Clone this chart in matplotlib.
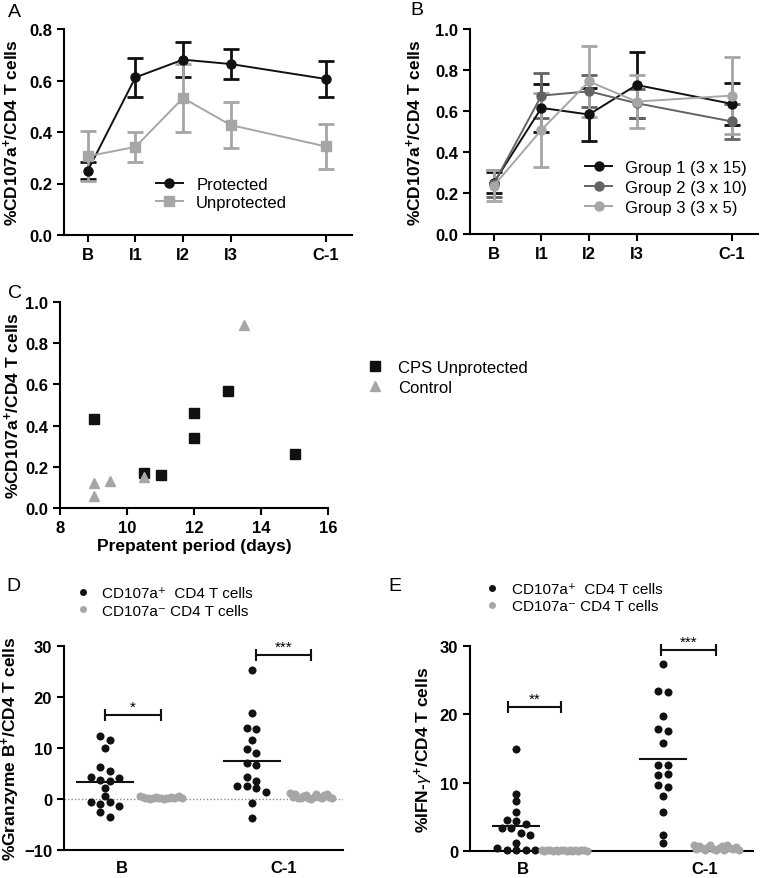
import numpy as np
import matplotlib
matplotlib.use("Agg")
import matplotlib.pyplot as plt
from matplotlib.lines import Line2D

W, H = 760, 879
plt.rcParams.update({
    "font.family": ["Liberation Sans", "DejaVu Sans"],
    "font.size": 12,
    "mathtext.fontset": "custom",
    "mathtext.rm": "Liberation Sans",
    "mathtext.bf": "Liberation Sans:bold",
    "mathtext.it": "Liberation Sans:italic",
    "axes.linewidth": 1.5,
    "xtick.major.width": 1.5, "ytick.major.width": 1.5,
    "xtick.major.size": 5, "ytick.major.size": 5,
    "xtick.labelsize": 12, "ytick.labelsize": 12,
    "axes.spines.top": False, "axes.spines.right": False,
})

# ---------------- data ----------------
timepoints = ["B", "I1", "I2", "I3", "C-1"]
time_pos = [0, 1, 2, 3, 5]

prot_mean = [0.25, 0.612, 0.681, 0.664, 0.606]
prot_sem = [0.033, 0.077, 0.067, 0.060, 0.070]
unprot_mean = [0.306, 0.342, 0.532, 0.427, 0.344]
unprot_sem = [0.097, 0.058, 0.133, 0.090, 0.086]

g1_mean = [0.250, 0.615, 0.583, 0.727, 0.635]
g1_sem = [0.052, 0.118, 0.130, 0.160, 0.104]
g2_mean = [0.245, 0.675, 0.696, 0.638, 0.549]
g2_sem = [0.065, 0.110, 0.078, 0.070, 0.087]
g3_mean = [0.235, 0.508, 0.744, 0.646, 0.675]
g3_sem = [0.075, 0.180, 0.175, 0.130, 0.187]

cps_days = [9, 10.5, 11, 12, 12, 13, 15]
cps_vals = [0.43, 0.17, 0.16, 0.46, 0.34, 0.57, 0.26]
ctrl_days = [9, 9, 9.5, 10.5, 13.5]
ctrl_vals = [0.12, 0.06, 0.13, 0.15, 0.89]

gzb_pos_B = [12.4, 11.6, 10.0, 6.3, 5.5, 4.4, 3.8, 3.6, 4.2, 2.2, 0.5, -0.5,
             -0.9, -0.5, -1.4, -2.6, -3.5]
gzb_neg_B = [0.6, 0.3, 0.1, 0.2, 0.0, 0.1, 0.3, 0.2, 0.1, 0.0, 0.2, 0.1, 0.3,
             0.2, 0.4, 0.5, 0.1]
gzb_pos_C = [25.2, 16.9, 13.9, 13.8, 11.6, 9.9, 9.1, 7.1, 6.7, 4.4, 3.5, 2.5,
             2.5, 2.1, 1.3, -0.8, -3.7]
gzb_neg_C = [1.1, 0.3, 0.9, 0.2, 0.1, 0.5, 0.8, 0.2, 0.0, 0.3, 0.9, 0.4, 0.1,
             0.7, 1.0, 0.3, 0.2]

ifn_pos_B = [14.9, 8.3, 7.3, 5.7, 4.5, 4.4, 4.0, 3.3, 3.3, 2.6, 2.4, 1.1, 0.4,
             0.1, 0.1, 0.1, 0.1]
ifn_neg_B = [0.1, 0.0, 0.2, 0.1, 0.0, 0.1, 0.0, 0.1, 0.2, 0.0, 0.1, 0.0, 0.1,
             0.0, 0.1, 0.2, 0.0]
ifn_pos_C = [27.3, 23.4, 23.2, 19.8, 17.8, 17.6, 15.8, 12.6, 12.6, 11.1, 11.2,
             9.6, 9.4, 8.0, 5.7, 2.4, 1.1]
ifn_neg_C = [0.9, 0.3, 0.8, 0.4, 0.2, 0.6, 0.9, 0.3, 0.1, 0.5, 0.7, 0.2, 0.95,
             0.4, 0.3, 0.6, 0.2]

BLACK, DGRAY, LGRAY = "#111111", "#636363", "#a6a6a6"


def px_axes(fig, l, t, r, b):
    return fig.add_axes([l / W, 1 - b / H, (r - l) / W, (b - t) / H])


def bold_ticks(ax):
    for lab in ax.get_xticklabels() + ax.get_yticklabels():
        lab.set_fontweight("bold")


def swarm(vals, row_h, step, max_w):
    vals = np.asarray(vals, float)
    order = np.argsort(vals, kind="stable")
    offs = np.zeros(len(vals))
    rows, cur = [], [order[0]]
    for i in order[1:]:
        if vals[i] - vals[cur[0]] < row_h:
            cur.append(i)
        else:
            rows.append(cur); cur = [i]
    rows.append(cur)
    for r in rows:
        r = sorted(r)  # keep input order inside a row
        n = len(r)
        s = step if n < 2 else min(step, max_w / (n - 1))
        offs[r] = (np.arange(n) - (n - 1) / 2) * s
    return offs


def line_panel(ax, series):
    for mean, sem, col, mk, lab in series:
        ax.errorbar(time_pos, mean, yerr=sem, color=col, marker=mk, ms=6.5,
                    lw=1.4, elinewidth=2, capsize=5.5, capthick=2, label=lab)
    ax.set_xticks(time_pos)
    ax.set_xticklabels(timepoints)
    ax.set_xlim(-0.5, 5.55)


YLAB = dict(fontweight="bold", fontsize=12.5)
fig = plt.figure(figsize=(W / 100, H / 100), dpi=100)

# ---------------- A ----------------
axA = px_axes(fig, 64, 30, 352, 236)
line_panel(axA, [(prot_mean, prot_sem, BLACK, "o", "Protected"),
                 (unprot_mean, unprot_sem, LGRAY, "s", "Unprotected")])
axA.set_ylim(0, 0.8)
axA.set_yticks(np.arange(0, 0.81, 0.2))
axA.set_yticklabels([f"{v:.1f}" for v in np.arange(0, 0.81, 0.2)])
axA.set_ylabel(r"%CD107a$^{\mathbf{+}}$/CD4 T cells", **YLAB)
axA.yaxis.set_label_coords(-0.15, 0.5)
axA.legend([Line2D([], [], color=BLACK, marker="o", ms=6.5, lw=1.4),
            Line2D([], [], color=LGRAY, marker="s", ms=6.5, lw=1.4)],
           ["Protected", "Unprotected"],
           frameon=False, loc="upper left", bbox_to_anchor=(0.32, 0.28),
           handlelength=1.6, handletextpad=0.8, labelspacing=0.15, fontsize=12,
           borderaxespad=0, borderpad=0)
bold_ticks(axA)

# ---------------- B ----------------
axB = px_axes(fig, 470, 30, 758, 235)
line_panel(axB, [(g1_mean, g1_sem, BLACK, "o", "Group 1 (3 x 15)"),
                 (g2_mean, g2_sem, DGRAY, "o", "Group 2 (3 x 10)"),
                 (g3_mean, g3_sem, LGRAY, "o", "Group 3 (3 x 5)")])
axB.set_ylim(0, 1.0)
axB.set_yticks(np.arange(0, 1.01, 0.2))
axB.set_yticklabels([f"{v:.1f}" for v in np.arange(0, 1.01, 0.2)])
axB.set_ylabel(r"%CD107a$^{\mathbf{+}}$/CD4 T cells", **YLAB)
axB.yaxis.set_label_coords(-0.16, 0.5)
axB.legend([Line2D([], [], color=c, marker="o", ms=6.5, lw=1.4)
            for c in (BLACK, DGRAY, LGRAY)],
           ["Group 1 (3 x 15)", "Group 2 (3 x 10)", "Group 3 (3 x 5)"],
           frameon=False, loc="upper left", bbox_to_anchor=(0.40, 0.36),
           handlelength=1.6, handletextpad=0.8, labelspacing=0.3, fontsize=12,
           borderaxespad=0, borderpad=0)
bold_ticks(axB)

# ---------------- C ----------------
axC = px_axes(fig, 60, 303, 328, 509)
axC.plot(cps_days, cps_vals, "s", color=BLACK, ms=7, label="CPS Unprotected",
         clip_on=False)
axC.plot(ctrl_days, ctrl_vals, "^", color=LGRAY, ms=6.5, label="Control",
         clip_on=False)
axC.set_xlim(8, 16)
axC.set_ylim(0, 1.0)
axC.set_xticks([8, 10, 12, 14, 16])
axC.set_yticks(np.arange(0, 1.01, 0.2))
axC.set_yticklabels([f"{v:.1f}" for v in np.arange(0, 1.01, 0.2)])
axC.set_ylabel(r"%CD107a$^{\mathbf{+}}$/CD4 T cells", **YLAB)
axC.yaxis.set_label_coords(-0.14, 0.5)
axC.set_xlabel("Prepatent period (days)", fontweight="bold", fontsize=12.5,
               labelpad=2)
fig.legend(*axC.get_legend_handles_labels(), loc="upper left",
           bbox_to_anchor=(368 / W, 1 - 361 / H), frameon=False, fontsize=12,
           handlelength=0.8, handletextpad=1.0, labelspacing=0.3,
           borderpad=0, borderaxespad=0)
bold_ticks(axC)


# ---------------- D / E ----------------
def dot_panel(ax, groups, pos, ylim, step, max_w, row_h, hw, ticks_x, brackets):
    for (vals, col), p in zip(groups, pos):
        offs = swarm(vals, row_h, step, max_w)
        ax.plot(p + offs, vals, "o", color=col, ms=5.8, mew=0, clip_on=False,
                zorder=3)
        if col == BLACK:
            m = np.mean(vals)
            ax.plot([p - hw, p + hw], [m, m], color=BLACK, lw=1.5, zorder=4)
    for x0, x1, y, star in brackets:
        ax.plot([x0, x1], [y, y], color=BLACK, lw=1.5, marker="|", ms=8,
                mew=1.5, clip_on=False)
        ax.text((x0 + x1) / 2, y + 0.2, star, ha="center", va="bottom",
                fontsize=11)
    ax.set_ylim(*ylim)
    ax.set_xticks(ticks_x)
    ax.set_xticklabels(["B", "C-1"])
    ax.tick_params(axis="x", length=0, pad=7)
    bold_ticks(ax)


legend_dots = [Line2D([], [], ls="none", marker="o", ms=5, mew=0, color=BLACK),
               Line2D([], [], ls="none", marker="o", ms=5, mew=0, color=LGRAY)]
legend_text = ["CD107a\u207a  CD4 T cells", "CD107a\u207b CD4 T cells"]

axD = px_axes(fig, 64, 647, 343, 851)
posD = [0, 1, 2.62, 3.68]
dot_panel(axD, [(gzb_pos_B, BLACK), (gzb_neg_B, LGRAY),
                (gzb_pos_C, BLACK), (gzb_neg_C, LGRAY)],
          posD, (-10, 30), 0.17, 0.75, 1.35, 0.5, [0.3, 3.2],
          [(posD[0], posD[1], 16.5, "*"), (posD[2] + 0.08, posD[3], 28.2, "***")])
axD.axhline(0, color="#888888", lw=1, ls=(0, (1, 1.5)), zorder=1)
axD.set_xlim(-0.73, 4.25)
axD.set_yticks([-10, 0, 10, 20, 30])
bold_ticks(axD)
axD.set_ylabel(r"%Granzyme B$^{\mathbf{+}}$/CD4 T cells", **YLAB)
axD.yaxis.set_label_coords(-0.15, 0.5)
fig.legend(legend_dots, legend_text, loc="upper left",
           bbox_to_anchor=(75 / W, 1 - 587 / H), frameon=False, fontsize=11,
           handlelength=1.0, handletextpad=0.8, labelspacing=0.25,
           borderpad=0, borderaxespad=0)

axE = px_axes(fig, 470, 647, 753, 852)
posE = [0, 0.96, 2.94, 4.0]
dot_panel(axE, [(ifn_pos_B, BLACK), (ifn_neg_B, LGRAY),
                (ifn_pos_C, BLACK), (ifn_neg_C, LGRAY)],
          posE, (0, 30), 0.19, 0.9, 1.0, 0.46, [0.14, 3.78],
          [(posE[0] - 0.16, posE[1] - 0.06, 21.1, "**"),
           (posE[2] - 0.04, posE[3], 29.4, "***")])
axE.set_xlim(-0.92, 4.74)
axE.set_yticks([0, 10, 20, 30])
bold_ticks(axE)
axE.set_ylabel(r"%IFN-$\gamma^{\mathbf{+}}$/CD4 T cells", **YLAB)
axE.yaxis.set_label_coords(-0.125, 0.5)
fig.legend(legend_dots, legend_text, loc="upper left",
           bbox_to_anchor=(484 / W, 1 - 583 / H), frameon=False, fontsize=11,
           handlelength=1.0, handletextpad=0.8, labelspacing=0.2,
           borderpad=0, borderaxespad=0)

# panel letters
for letter, x, y in [("A", 8, 4), ("B", 410, 2), ("C", 8, 285), ("D", 6, 578),
                     ("E", 388, 578)]:
    fig.text(x / W, 1 - y / H, letter, fontsize=14, ha="left", va="top")

fig.savefig("out.png", dpi=100)
